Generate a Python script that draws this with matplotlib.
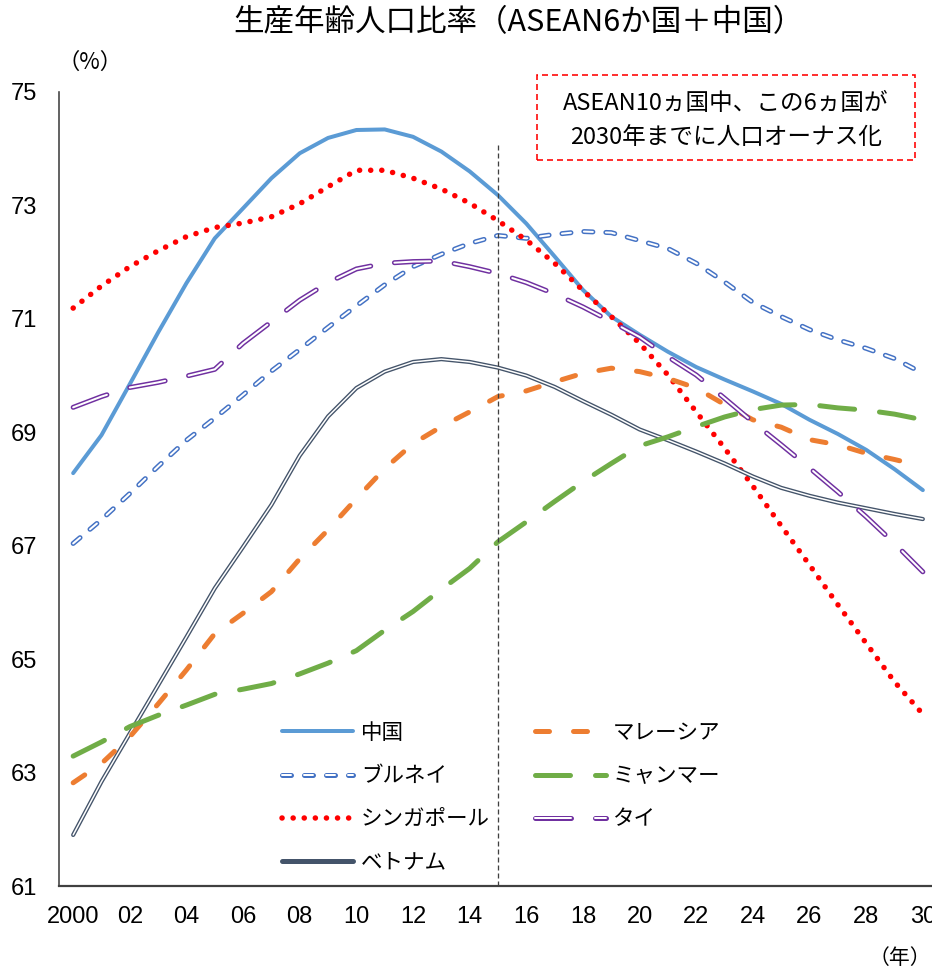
import matplotlib
matplotlib.use('Agg')
import matplotlib.pyplot as plt
from matplotlib.lines import Line2D
from matplotlib.patches import Rectangle

# --- Data ---
years = list(range(2000, 2031))
china = [68.28, 68.95, 69.85, 70.76, 71.63, 72.42, 72.95, 73.48, 73.92, 74.19,
         74.33, 74.34, 74.21, 73.95, 73.60, 73.18, 72.68, 72.10, 71.51, 71.04,
         70.72, 70.42, 70.15, 69.93, 69.72, 69.50, 69.22, 68.97, 68.69, 68.35, 67.98]
brunei = [67.04, 67.46, 67.92, 68.40, 68.86, 69.25, 69.66, 70.08, 70.46, 70.85,
          71.23, 71.60, 71.92, 72.14, 72.33, 72.47, 72.42, 72.49, 72.54, 72.52,
          72.38, 72.24, 71.98, 71.65, 71.29, 71.04, 70.81, 70.63, 70.48, 70.30, 70.04]
singapore = [71.19, 71.58, 71.92, 72.20, 72.45, 72.61, 72.69, 72.80, 73.03, 73.33,
             73.62, 73.62, 73.48, 73.29, 73.04, 72.73, 72.39, 71.98, 71.50, 71.04,
             70.57, 70.01, 69.36, 68.72, 68.05, 67.35, 66.66, 65.96, 65.28, 64.60, 64.03]
vietnam = [61.90, 62.84, 63.69, 64.54, 65.39, 66.25, 66.98, 67.72, 68.59, 69.28,
           69.78, 70.07, 70.24, 70.29, 70.24, 70.14, 70.00, 69.80, 69.55, 69.31,
           69.05, 68.86, 68.66, 68.45, 68.22, 68.02, 67.88, 67.76, 67.66, 67.56, 67.47]
malaysia = [62.82, 63.16, 63.63, 64.21, 64.81, 65.45, 65.81, 66.19, 66.77, 67.28,
            67.83, 68.36, 68.80, 69.10, 69.36, 69.63, 69.73, 69.89, 70.04, 70.13,
            70.07, 69.95, 69.78, 69.49, 69.22, 69.09, 68.87, 68.78, 68.63, 68.52, 68.40]
myanmar = [63.29, 63.54, 63.81, 64.01, 64.19, 64.38, 64.47, 64.57, 64.74, 64.93,
           65.15, 65.51, 65.84, 66.23, 66.60, 67.07, 67.42, 67.78, 68.13, 68.45,
           68.76, 68.92, 69.10, 69.27, 69.40, 69.48, 69.49, 69.43, 69.39, 69.32, 69.22]
thai = [69.44, 69.63, 69.79, 69.88, 69.99, 70.11, 70.57, 70.95, 71.33, 71.64,
        71.88, 71.98, 72.01, 72.02, 71.92, 71.80, 71.64, 71.44, 71.21, 70.95,
        70.68, 70.33, 70.01, 69.60, 69.18, 68.78, 68.37, 67.95, 67.51, 67.04, 66.54]

names = ['中国', 'ブルネイ', 'シンガポール', 'ベトナム', 'マレーシア', 'ミャンマー', 'タイ']
tick_years = list(range(2000, 2031, 2))
tick_labels = ['2000'] + ['%02d' % (y % 100) for y in tick_years[1:]]
y_ticks = list(range(61, 76, 2))
ref_year = 2015
ref_top = 74.1

title = '生産年齢人口比率（ASEAN6か国＋中国）'
note = ['ASEAN10ヵ国中、この6ヵ国が', '2030年までに人口オーナス化']

# --- Figure geometry (pixels) ---
DPI = 100
W, H = 932, 973


def pt(px):
    return px * 72 / DPI


def fx(px):
    return px / W


def fy(py):
    return 1 - py / H


plt.rcParams['lines.scale_dashes'] = False
plt.rcParams['font.family'] = ['Noto Sans CJK JP', 'DejaVu Sans']
TICK_FONT = ['Liberation Sans Narrow', 'Liberation Sans', 'DejaVu Sans']

fig = plt.figure(figsize=(W / DPI, H / DPI), dpi=DPI)
ax = fig.add_axes([fx(59), fy(886), (937 - 59) / W, (886 - 92) / H])


def draw(y, color, lw, dashes=None, core=None):
    ls = (0, [pt(d) for d in dashes]) if dashes else '-'
    kw = dict(solid_capstyle='round', dash_capstyle='round',
              solid_joinstyle='round', dash_joinstyle='round')
    outer, = ax.plot(years, y, color=color, lw=pt(lw), linestyle=ls, **kw)
    if core is None:
        return outer
    inner, = ax.plot(years, y, color='white', lw=pt(core), linestyle=ls, **kw)
    return (outer, inner)


h_china = draw(china, '#5B9BD5', 4)
h_brunei = draw(brunei, '#4472C4', 5, dashes=(9, 13), core=2)
h_sing = draw(singapore, '#FF0000', 5.5, dashes=(0.1, 11))
h_viet = draw(vietnam, '#44546A', 4.2, core=1.5)
h_malay = draw(malaysia, '#ED7D31', 5, dashes=(14, 24))
h_myan = draw(myanmar, '#70AD47', 5, dashes=(35, 25))
h_thai = draw(thai, '#7030A0', 5, dashes=(36, 24), core=2)

ax.vlines(ref_year, y_ticks[0], ref_top, color='#404040', lw=pt(1.3),
          linestyles=(0, (pt(5), pt(3))))

ax.set_xlim(1999.5, 2030.5)
ax.set_ylim(y_ticks[0], y_ticks[-1])
ax.set_xticks(tick_years)
ax.set_xticklabels(tick_labels)
ax.set_yticks(y_ticks)
ax.tick_params(length=0, labelsize=17)
ax.tick_params(axis='x', pad=pt(20))
ax.tick_params(axis='y', pad=pt(22))
for lab in ax.get_xticklabels() + ax.get_yticklabels():
    lab.set_family(TICK_FONT)
for s in ('top', 'right'):
    ax.spines[s].set_visible(False)
ax.spines['left'].set_color('#404040')
ax.spines['left'].set_linewidth(pt(1.6))
ax.spines['bottom'].set_color('#404040')
ax.spines['bottom'].set_linewidth(pt(2.2))

# --- Legends (two columns) ---
viet_leg = Line2D([], [], color='#44546A', lw=pt(5), solid_capstyle='round')
leg_kw = dict(loc='upper left', bbox_transform=fig.transFigure, frameon=False,
              borderpad=0, borderaxespad=0, fontsize=15.5, handlelength=3.3,
              handletextpad=0.37, labelspacing=0.98)
leg1 = ax.legend([h_china, h_brunei, h_sing, viet_leg], names[:4],
                 bbox_to_anchor=(fx(282), fy(722)), **leg_kw)
ax.add_artist(leg1)
leg_kw['handletextpad'] = 0.3
ax.legend([h_malay, h_myan, h_thai], names[4:],
          bbox_to_anchor=(fx(535), fy(722)), **leg_kw)

# --- Texts ---
fig.text(fx(518), fy(23), title, ha='center', va='center', fontsize=22)
fig.text(fx(90), fy(62), '（%）', ha='center', va='center', fontsize=16)
fig.text(fx(931), fy(958), '（年）', ha='right', va='center', fontsize=15)

fig.add_artist(Rectangle((fx(537), fy(160)), (915 - 537) / W, (160 - 75) / H,
                         transform=fig.transFigure, fill=False, ec='#FF0000',
                         lw=pt(1.6), ls=(0, (pt(6), pt(4)))))
fig.text(fx(726), fy(104), note[0], ha='center', va='center', fontsize=17)
fig.text(fx(726), fy(138), note[1], ha='center', va='center', fontsize=17)

fig.savefig('out.png', dpi=DPI)
